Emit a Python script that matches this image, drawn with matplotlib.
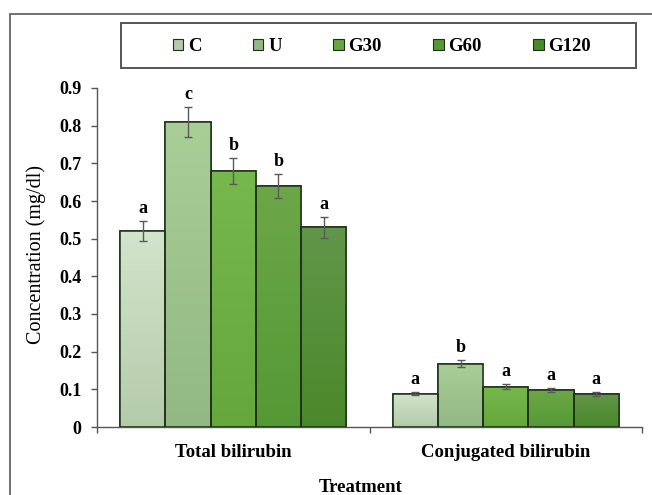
import numpy as np
import matplotlib
matplotlib.use('Agg')
import matplotlib.pyplot as plt
from matplotlib.patches import Rectangle, Patch
from matplotlib.colors import LinearSegmentedColormap

plt.rcParams['font.family'] = ['Liberation Serif', 'DejaVu Serif']

categories = ['Total bilirubin', 'Conjugated bilirubin']
groups = ['C', 'U', 'G30', 'G60', 'G120']
values = {
    'C': [0.52, 0.088],
    'U': [0.81, 0.168],
    'G30': [0.68, 0.107],
    'G60': [0.64, 0.098],
    'G120': [0.53, 0.088],
}
errors = {
    'C': [0.026, 0.004],
    'U': [0.040, 0.009],
    'G30': [0.035, 0.007],
    'G60': [0.032, 0.005],
    'G120': [0.027, 0.005],
}
letters = {
    'C': ['a', 'a'],
    'U': ['c', 'b'],
    'G30': ['b', 'a'],
    'G60': ['b', 'a'],
    'G120': ['a', 'a'],
}
yticks = [0, 0.1, 0.2, 0.3, 0.4, 0.5, 0.6, 0.7, 0.8, 0.9]
ytick_labels = ['0', '0.1', '0.2', '0.3', '0.4', '0.5', '0.6', '0.7', '0.8', '0.9']

# (top colour, bottom colour) of each bar gradient
colors = {
    'C': ('#d2e4cb', '#b4cbaa'),
    'U': ('#a9ce96', '#92b884'),
    'G30': ('#76b84c', '#66a73d'),
    'G60': ('#6ca747', '#559935'),
    'G120': ('#62964a', '#4a892a'),
}
edge = '#1c2e18'

fig = plt.figure(figsize=(6.52, 4.95), dpi=100)
ax = fig.add_axes([97 / 652, 1 - 427 / 495, 545 / 652, 339 / 495])

x = np.arange(len(categories))
w = 0.166
for i, g in enumerate(groups):
    pos = x + (i - 2) * w
    bars = ax.bar(pos, values[g], w, color=colors[g][1], edgecolor=edge,
                  linewidth=1.1, zorder=2)
    cmap = LinearSegmentedColormap.from_list(g, [colors[g][1], colors[g][0]])
    for b in bars:
        x0, y0 = b.get_x(), b.get_y()
        im = ax.imshow(np.linspace(0, 1, 64).reshape(-1, 1), cmap=cmap,
                       origin='lower', aspect='auto',
                       extent=[x0, x0 + b.get_width(), y0, y0 + b.get_height()],
                       zorder=2.5)
        im.set_clip_path(b)
        ax.add_patch(Rectangle((x0, y0), b.get_width(), b.get_height(),
                               fill=False, edgecolor=edge, linewidth=1.1, zorder=3))
    ax.errorbar(pos, values[g], yerr=errors[g], fmt='none', ecolor='#5a5a5a',
                elinewidth=1, capsize=3.2, capthick=1, zorder=4)
    for p, v, e, t in zip(pos, values[g], errors[g], letters[g]):
        ax.annotate(t, (p, v + e), xytext=(0, 3), textcoords='offset points',
                    ha='center', va='bottom', fontsize=13, fontweight='bold')

ax.set_xlim(-0.5, 1.5)
ax.set_ylim(0, 0.9)
ax.set_yticks(yticks)
ax.set_yticklabels(ytick_labels, fontsize=13, fontweight='bold')
ax.tick_params(axis='y', direction='out', length=4, width=1, color='#555555', pad=7)

ax.set_xticks([-0.5, 0.5, 1.5])
ax.set_xticklabels([])
ax.tick_params(axis='x', which='major', direction='out', length=4, width=1, color='#555555')
ax.set_xticks(x, minor=True)
ax.set_xticklabels(categories, minor=True, fontsize=13.5, fontweight='bold')
ax.tick_params(axis='x', which='minor', length=0, pad=12)

for s in ['top', 'right']:
    ax.spines[s].set_visible(False)
for s in ['left', 'bottom']:
    ax.spines[s].set_color('#555555')
    ax.spines[s].set_linewidth(1)

ax.set_ylabel('Concentration (mg/dl)', fontsize=14.5)
ax.yaxis.set_label_coords(-51 / 545, 0.509)
ax.set_xlabel('Treatment', fontsize=13.5, fontweight='bold')
ax.xaxis.set_label_coords(0.483, -52 / 339)

# legend with its own box
handles = [Patch(facecolor=colors[g][1], edgecolor=edge, linewidth=0.8) for g in groups]
fig.legend(handles, groups, loc='center', bbox_to_anchor=(382 / 652, 1 - 46.5 / 495),
           ncol=5, frameon=False, prop={'size': 13.5, 'weight': 'bold'},
           handlelength=0.55, handleheight=0.55, handletextpad=0.25,
           columnspacing=2.75)
fig.patches.append(Rectangle((120.7 / 652, 1 - 67.7 / 495), 515 / 652, 44.4 / 495,
                             transform=fig.transFigure, fill=False,
                             edgecolor='#555555', linewidth=1.4))

# outer frame (only top and left are visible in the picture)
fig.patches.append(Rectangle((10 / 652, -0.1), 1.2, 1.1 - 14 / 495,
                             transform=fig.transFigure, fill=False,
                             edgecolor='#666666', linewidth=1.3))

fig.savefig('out.png', dpi=100)
